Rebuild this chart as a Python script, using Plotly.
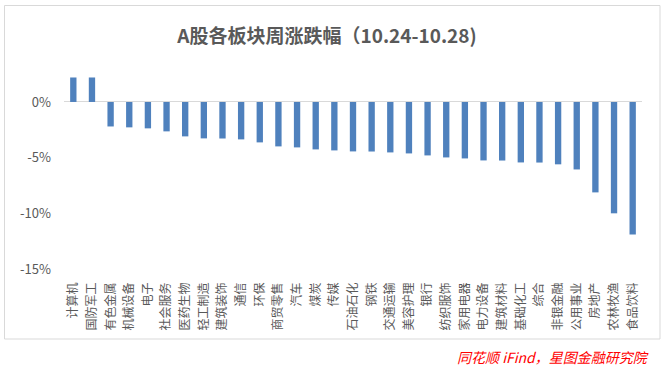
import plotly.graph_objects as go

categories = ["计算机", "国防军工", "有色金属", "机械设备", "电子", "社会服务", "医药生物",
              "轻工制造", "建筑装饰", "通信", "环保", "商贸零售", "汽车", "煤炭", "传媒",
              "石油石化", "钢铁", "交通运输", "美容护理", "银行", "纺织服饰", "家用电器",
              "电力设备", "建筑材料", "基础化工", "综合", "非银金融", "公用事业", "房地产",
              "农林牧渔", "食品饮料"]
values = [2.2, 2.2, -2.2, -2.28, -2.37, -2.64, -3.09, -3.27, -3.28, -3.36, -3.63, -3.99,
          -4.08, -4.26, -4.35, -4.44, -4.45, -4.53, -4.62, -4.80, -4.98, -5.07, -5.25,
          -5.26, -5.43, -5.44, -5.60, -6.06, -8.12, -10.0, -11.9]
ytick_vals = [0, -5, -10, -15]
ytick_text = ["0%", "-5%", "-10%", "-15%"]

FONT = "Noto Sans CJK SC, Microsoft YaHei, sans-serif"
GRAY = "#595959"

fig = go.Figure(go.Bar(x=categories, y=values, marker=dict(color="#4F81BD", line=dict(width=0)),
                       hoverinfo="x+y"))

L, R, T, B = 64, 23, 63, 101
W, H = 665, 370
pw = W - L - R
ph = H - T - B

def px_x(p):
    return (p - L) / pw

def px_y(p):
    return (H - B - p) / ph

fig.update_layout(
    width=W, height=H,
    margin=dict(l=L, r=R, t=T, b=B, autoexpand=False),
    paper_bgcolor="white", plot_bgcolor="white",
    showlegend=False,
    bargap=0.66,
    font=dict(family=FONT, color=GRAY, size=12),
    title=dict(text="<b>A股各板块周涨跌幅（10.24-10.28)</b>",
               x=327 / W, xanchor="center", xref="container",
               y=1 - 36 / H, yanchor="middle", yref="container",
               font=dict(family=FONT, size=19, color=GRAY)),
    xaxis=dict(type="category", tickangle=-90, showgrid=False, showline=False,
               ticks="", ticklabelstandoff=10, automargin=False,
               tickfont=dict(family=FONT, size=12, color=GRAY)),
    yaxis=dict(range=[-15, 3.5], tickvals=ytick_vals, ticktext=ytick_text,
               showgrid=False, zeroline=True, zerolinecolor="#d9d9d9", zerolinewidth=1,
               showline=False, ticks="", ticklabelstandoff=12, automargin=False,
               tickfont=dict(family=FONT, size=13, color=GRAY)),
    shapes=[dict(type="rect", xref="paper", yref="paper",
                 x0=px_x(4.5), x1=px_x(660), y0=px_y(339), y1=px_y(5.5),
                 line=dict(color="#d9d9d9", width=1), fillcolor="rgba(0,0,0,0)", layer="below")],
    annotations=[dict(text="同花顺 iFind，星图金融研究院", xref="paper", yref="paper",
                      x=px_x(651), y=px_y(357), xanchor="right", yanchor="middle",
                      showarrow=False,
                      font=dict(family=FONT, size=14, color="#FF0000", style="italic"))],
)

fig.write_html("out.html", config={"displayModeBar": False},
               post_script="document.body.style.margin='0px';")
